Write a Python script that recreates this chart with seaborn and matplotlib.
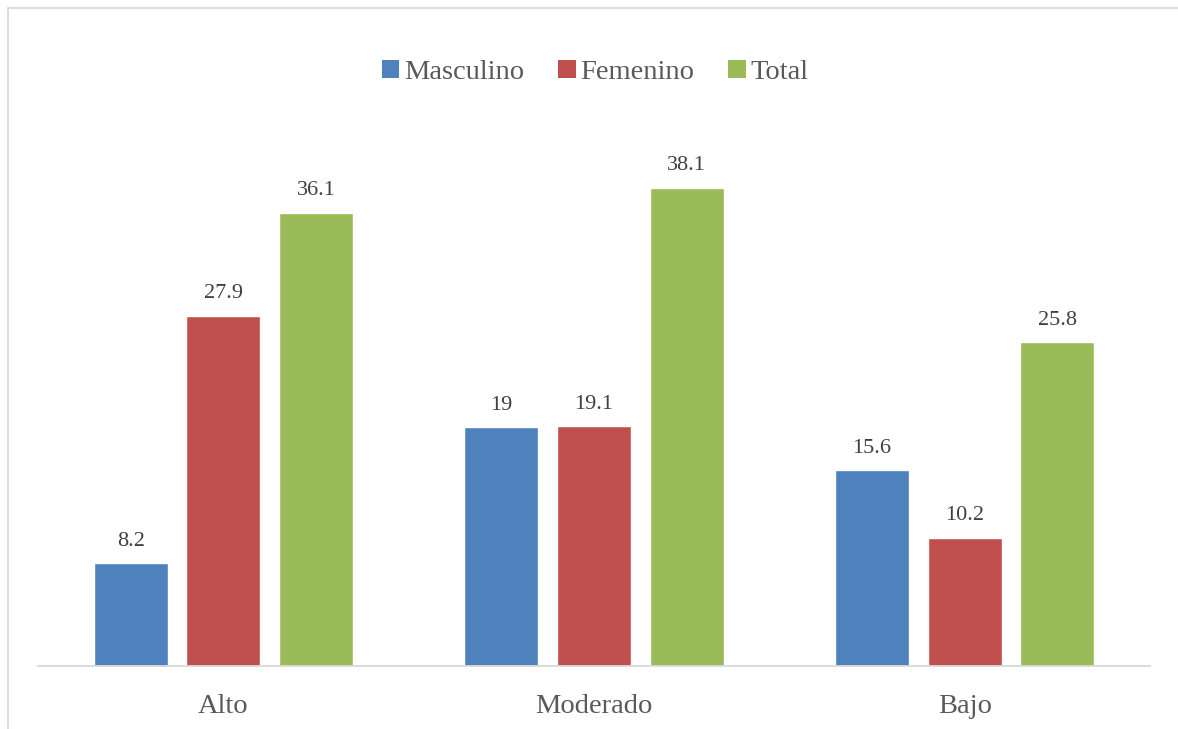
import matplotlib
matplotlib.use("Agg")
import matplotlib.pyplot as plt
import seaborn as sns
import pandas as pd
from matplotlib.lines import Line2D
from matplotlib.patches import Patch

categories = ["Alto", "Moderado", "Bajo"]
series = ["Masculino", "Femenino", "Total"]
masculino = [8.2, 19, 15.6]
femenino = [27.9, 19.1, 10.2]
total = [36.1, 38.1, 25.8]
labels_m = ["8.2", "19", "15.6"]
labels_f = ["27.9", "19.1", "10.2"]
labels_t = ["36.1", "38.1", "25.8"]

colors = ["#4F81BD", "#C0504D", "#9BBB59"]

rows = []
for s, vals in zip(series, [masculino, femenino, total]):
    for c, v in zip(categories, vals):
        rows.append({"cat": c, "serie": s, "val": v})
df = pd.DataFrame(rows)

sns.set_theme(style="white")
plt.rcParams["font.family"] = ["Liberation Serif", "DejaVu Serif"]

fig = plt.figure(figsize=(11.78, 7.29), dpi=100)
ax = fig.add_axes([38/1178, 63/729, 1112/1178, 565/729])

sns.barplot(data=df, x="cat", y="val", hue="serie", order=categories,
            hue_order=series, palette=colors, width=0.75, gap=0.2,
            saturation=1, ax=ax, legend=False, errorbar=None)

ax.set_ylim(0, 45)
ax.set_xlim(-0.5, 2.5)
ax.set_xlabel("")
ax.set_ylabel("")
ax.set_yticks([])
for sp in ["top", "right", "left"]:
    ax.spines[sp].set_visible(False)
ax.spines["bottom"].set_color("#D9D9D9")
ax.spines["bottom"].set_linewidth(1.3)
ax.tick_params(axis="x", length=0, pad=20, labelsize=20.5, labelcolor="#595959")

all_labels = [labels_m, labels_f, labels_t]
for cont, labs in zip(ax.containers, all_labels):
    ax.bar_label(cont, labels=labs, padding=9, fontsize=16, color="#404040")

handles = [Patch(facecolor=c, edgecolor="none") for c in colors]
leg = fig.legend(handles, series, loc="center", bbox_to_anchor=(0.505, 0.901),
                 ncol=3, frameon=False, fontsize=20.5, handlelength=0.62,
                 handleheight=0.62, handletextpad=0.15, columnspacing=1.2)
for t in leg.get_texts():
    t.set_color("#595959")

# chart border (partly cropped)
fig.add_artist(Line2D([8/1178, 8/1178], [0, 1 - 8/729], transform=fig.transFigure,
                      color="#D9D9D9", lw=1.3))
fig.add_artist(Line2D([8/1178, 1], [1 - 8/729, 1 - 8/729], transform=fig.transFigure,
                      color="#D9D9D9", lw=1.3))

fig.savefig("out.png", dpi=100)
